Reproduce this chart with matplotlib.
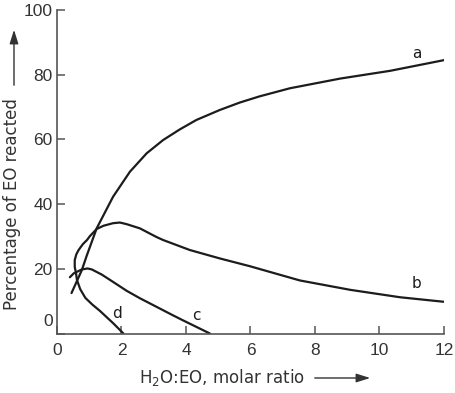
import matplotlib
matplotlib.use("Agg")
import matplotlib.pyplot as plt
import matplotlib.transforms as mtransforms
from matplotlib.patches import FancyArrowPatch

# curve values (x = H2O:EO molar ratio, y = % EO reacted)
a_x = [0.45, 0.77, 0.92, 1.23, 1.74, 2.26, 2.78, 3.29, 3.81, 4.32, 5.05, 5.67, 6.28, 7.22, 8.78, 10.33, 12.0]
a_y = [12.5, 19.6, 24.0, 32.5, 42.3, 50.0, 55.7, 59.8, 63.1, 66.0, 69.1, 71.4, 73.3, 75.8, 78.8, 81.2, 84.5]

b_x = [0.59, 0.55, 0.55, 0.60, 0.67, 0.80, 0.93, 1.02, 1.23, 1.44, 1.74, 1.95, 2.16, 2.57, 3.09, 3.29, 4.12, 5.05, 5.67, 5.98, 7.53, 9.09, 10.64, 12.0]
b_y = [18.6, 20.6, 22.7, 24.5, 25.8, 27.6, 28.9, 30.1, 32.3, 33.3, 34.1, 34.3, 33.8, 32.5, 29.8, 28.9, 25.8, 23.2, 21.6, 20.8, 16.4, 13.5, 11.2, 9.8]

c_x = [0.40, 0.52, 0.77, 0.95, 1.08, 1.39, 1.70, 2.16, 2.57, 3.60, 3.90, 4.74]
c_y = [17.4, 18.6, 19.8, 20.1, 19.8, 18.2, 16.2, 13.2, 10.9, 5.6, 4.1, 0.0]

d_x = [0.59, 0.62, 0.72, 0.88, 1.10, 1.33, 1.75, 2.06]
d_y = [18.6, 16.5, 13.7, 11.0, 8.9, 7.0, 3.1, 0.0]

curve_labels = ["a", "b", "c", "d"]
label_x = [11.15, 11.15, 4.33, 1.87]
label_y = [86.6, 15.6, 5.6, 6.1]

x_ticks = [0, 2, 4, 6, 8, 10, 12]
y_ticks = [0, 20, 40, 60, 80, 100]

ink = "#1c1c1c"
axis_grey = "#555555"
text_grey = "#333333"
tick_font = "Liberation Sans"

fig = plt.figure(figsize=(4.56, 3.93), dpi=100)
ax = fig.add_axes([57 / 456, 59.5 / 393, 387 / 456, 323.5 / 393])

for xs, ys in [(a_x, a_y), (b_x, b_y), (c_x, c_y), (d_x, d_y)]:
    ax.plot(xs, ys, color=ink, linewidth=1.6, solid_capstyle="round", solid_joinstyle="round")

for name, lx, ly in zip(curve_labels, label_x, label_y):
    ax.text(lx, ly, name, ha="center", va="center", fontsize=11, color=ink)

ax.set_xlim(0, 12)
ax.set_ylim(0, 100)
ax.set_xticks(x_ticks)
ax.set_yticks(y_ticks)
ax.set_xticklabels([str(v) for v in x_ticks], family=tick_font, fontsize=12.5, color=text_grey)
ax.set_yticklabels([str(v) for v in y_ticks], family=tick_font, fontsize=12.5, color=text_grey)
ax.tick_params(axis="x", direction="in", length=6, width=1.1, color=axis_grey, pad=7)
ax.tick_params(axis="y", direction="in", length=6, width=1.1, color=axis_grey, pad=3)

# the y "0" sits a little above the axis line in the reference
zero_label = ax.get_yticklabels()[0]
zero_label.set_transform(zero_label.get_transform() + mtransforms.ScaledTranslation(0, 10 / 72, fig.dpi_scale_trans))

for side in ["top", "right"]:
    ax.spines[side].set_visible(False)
for side in ["left", "bottom"]:
    ax.spines[side].set_color(axis_grey)
    ax.spines[side].set_linewidth(1.2)

# axis titles with their arrows
fig.text(12.5 / 456, 1 - 204 / 393, "Percentage of EO reacted", rotation=90, ha="center", va="center",
         fontsize=12, color=text_grey)
fig.text(222 / 456, 1 - 377 / 393, "H$_2$O:EO, molar ratio", ha="center", va="center",
         fontsize=12, color=text_grey)
arrow = dict(arrowstyle="-|>,head_length=0.7,head_width=0.22", mutation_scale=12,
             color=text_grey, linewidth=1.0, transform=fig.transFigure)
fig.add_artist(FancyArrowPatch((14 / 456, 1 - 88 / 393), (14 / 456, 1 - 27 / 393), **arrow))
fig.add_artist(FancyArrowPatch((312 / 456, 1 - 378 / 393), (373 / 456, 1 - 378 / 393), **arrow))

fig.savefig("out.png", dpi=100)
